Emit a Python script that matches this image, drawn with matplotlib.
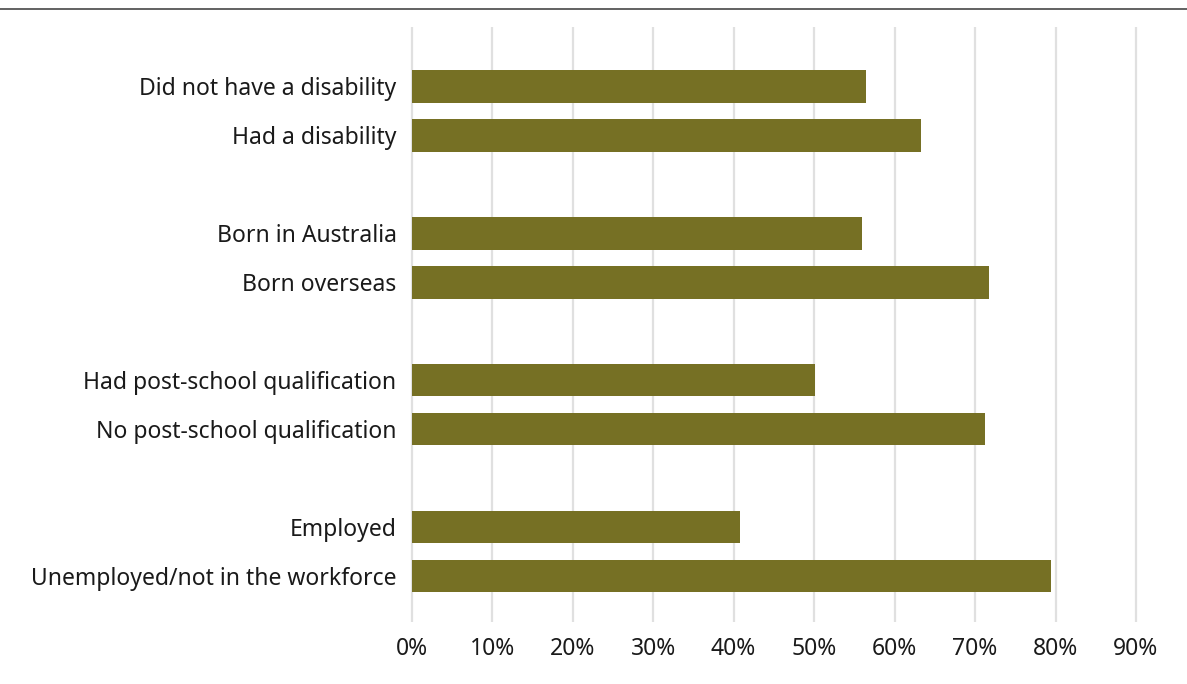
import matplotlib
matplotlib.use('Agg')
import matplotlib.pyplot as plt
from matplotlib.lines import Line2D

plt.rcParams['font.family'] = ['Noto Sans', 'DejaVu Sans']

categories = [
    'Did not have a disability',
    'Had a disability',
    'Born in Australia',
    'Born overseas',
    'Had post-school qualification',
    'No post-school qualification',
    'Employed',
    'Unemployed/not in the workforce',
]
values = [56.4, 63.3, 56.0, 71.7, 50.1, 71.2, 40.8, 79.4]
positions = [0, 1, 3, 4, 6, 7, 9, 10]
xticks = list(range(0, 100, 10))

W, H = 1187, 684
fig = plt.figure(figsize=(W / 100, H / 100), dpi=100)
ax = fig.add_axes([407.7 / W, 1 - 622 / H, (1140 - 407.7) / W, (622 - 27) / H])

ax.barh(positions, values, height=0.67, color='#767024', zorder=3)

ax.set_xlim(-0.5, 90.5)
ax.set_ylim(10.94, -1.21)
ax.set_xticks(xticks)
ax.set_xticklabels([f'{t}%' for t in xticks])
ax.set_yticks(positions)
ax.set_yticklabels(categories)
ax.tick_params(axis='both', length=0, labelsize=16.5, colors='#1a1a1a')
ax.tick_params(axis='x', pad=11)
ax.tick_params(axis='y', pad=8)
ax.grid(axis='x', color='#e0e0e0', linewidth=1.6, zorder=0)
ax.grid(axis='y', visible=False)
for s in ax.spines.values():
    s.set_visible(False)

fig.add_artist(Line2D([0, 1], [1 - 9 / H, 1 - 9 / H], color='#555555', linewidth=1.3))

fig.savefig('out.png', dpi=100)
